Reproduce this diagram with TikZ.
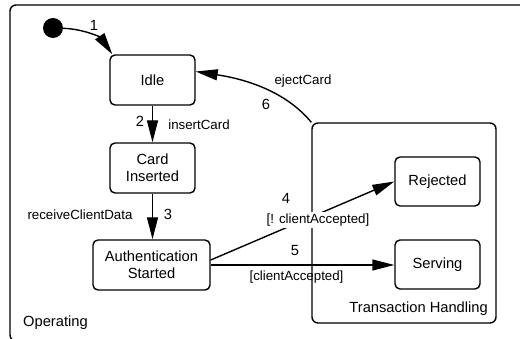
\documentclass[tikz,border=0pt]{standalone}
\usepackage{fontspec}
\setmainfont{Liberation Sans}
\usetikzlibrary{arrows.meta}

\begin{document}
\begin{tikzpicture}[x=1pt,y=-1pt,
  state/.style={draw, line width=1.4pt, rounded corners=5pt, align=center,
    font=\fontsize{14.7}{17}\selectfont, inner sep=0pt},
  region/.style={draw, line width=1.4pt, rounded corners=6pt, inner sep=0pt},
  trans/.style={line width=1.4pt, -{Triangle[length=22pt,width=11pt]}},
  lbl/.style={font=\fontsize{13.3}{15}\selectfont, inner sep=1pt},
  num/.style={font=\fontsize{14.7}{17}\selectfont, inner sep=0pt}]

  \useasboundingbox (0,0) rectangle (520,339);
  \clip (0,0) rectangle (520,339);

  % composite states
  \node[region, minimum width=520pt, minimum height=336pt] (op) at (270,173) {};
  \node[region, minimum width=184pt, minimum height=200pt] (th) at (404,223) {};

  % initial pseudo-state
  \node[circle, fill=black, minimum size=20pt, inner sep=0pt] (init) at (53,28) {};

  % simple states
  \node[state, minimum width=85pt, minimum height=50pt] (idle) at (152.5,80) {Idle};
  \node[state, minimum width=85pt, minimum height=50pt] (card) at (152.5,168) {Card\\Inserted};
  \node[state, minimum width=117pt, minimum height=50pt] (auth) at (151.5,265) {Authentication\\Started};
  \node[state, minimum width=85pt, minimum height=49pt] (rej) at (437.5,181.5) {Rejected};
  \node[state, minimum width=85pt, minimum height=49pt] (serv) at (437.5,264.5) {Serving};

  % transitions
  \draw[trans] (init) .. controls (85,29) and (101,38) .. ([xshift=3pt]idle.north west);
  \draw[trans] (idle.south) -- (card.north);
  \draw[trans] (card.south) -- (card.south |- auth.north);
  \draw[trans] ([yshift=5pt]auth.east) -- (rej.west);
  \draw[trans] (auth.east) -- (auth.east -| serv.west);
  \draw[trans] (th.north west) .. controls (283,88) and (238,78) .. ([yshift=8.5pt]idle.east);

  % region names
  \node[lbl, font=\fontsize{14.7}{17}\selectfont, anchor=west] (opname) at (22,323) {Operating};
  \node[lbl, font=\fontsize{14.7}{17}\selectfont, anchor=east] (thname) at (489,309) {Transaction Handling};

  % transition labels
  \node[num] (n1) at (94,25) {1};
  \node[num] (n2) at (140,121) {2};
  \node[lbl] (l2) at (199,125) {insertCard};
  \node[num] (n3) at (168,214) {3};
  \node[lbl] (l3) at (80,215) {receiveClientData};
  \node[num] (n4) at (286,198) {4};
  \node[lbl, fill=white, inner sep=2pt] (l4) at (318,220) {[! clientAccepted]};
  \node[num] (n5) at (295,251) {5};
  \node[lbl] (l5) at (296.5,277) {[clientAccepted]};
  \node[num] (n6) at (266,104) {6};
  \node[lbl] (l6) at (303,81) {ejectCard};
\end{tikzpicture}
\end{document}
